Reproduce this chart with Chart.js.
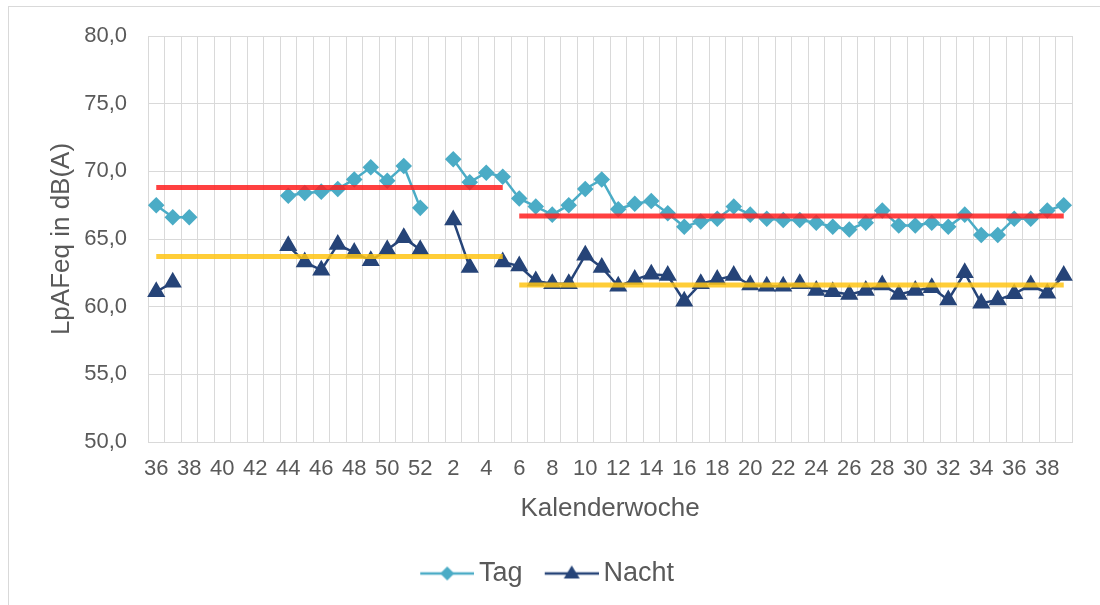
<!DOCTYPE html>
<html>
<head>
<meta charset="utf-8">
<script src="https://cdn.jsdelivr.net/npm/chart.js@4.4.1/dist/chart.umd.min.js"></script>
<style>
  body { margin: 0; background: #fff; }
  #wrap { position: relative; width: 1100px; height: 605px; overflow: hidden; }
  #frame { position: absolute; left: 8px; top: 6px; width: 1100px; height: 640px; border: 1px solid #d9d9d9; }
  #myChart { position: absolute; left: 0; top: 0; }
</style>
</head>
<body>
<div id="wrap"><div id="frame"></div><canvas id="myChart" width="1100" height="605"></canvas></div>
<script>
'use strict';
// Kalenderwochen 36..52 und 1..39
let weeks = ['36','37','38','39','40','41','42','43','44','45','46','47','48','49','50','51','52',
  '1','2','3','4','5','6','7','8','9','10','11','12','13','14','15','16','17','18','19','20',
  '21','22','23','24','25','26','27','28','29','30','31','32','33','34','35','36','37','38','39'];

let tagValues = [67.5, 66.6, 66.6, null, null, null, null, null, 68.2, 68.4, 68.5, 68.7, 69.4, 70.3, 69.3, 70.4, 67.3,
  null, 70.9, 69.2, 69.9, 69.6, 68.0, 67.4, 66.8, 67.5, 68.7, 69.4, 67.2, 67.6, 67.8, 66.9, 65.9, 66.3, 66.5, 67.4, 66.8,
  66.5, 66.4, 66.4, 66.2, 65.9, 65.7, 66.2, 67.1, 66.0, 66.0, 66.2, 65.9, 66.8, 65.3, 65.3, 66.5, 66.5, 67.1, 67.5];

let nachtValues = [61.1, 61.8, null, null, null, null, null, null, 64.5, 63.3, 62.7, 64.6, 64.0, 63.4, 64.2, 65.1, 64.2,
  null, 66.4, 62.9, null, 63.3, 63.0, 61.9, 61.7, 61.7, 63.8, 62.9, 61.5, 62.0, 62.4, 62.3, 60.4, 61.7, 62.0, 62.3, 61.6,
  61.5, 61.5, 61.7, 61.2, 61.1, 60.9, 61.2, 61.6, 60.9, 61.2, 61.4, 60.5, 62.5, 60.25, 60.5, 60.95, 61.6, 61.0, 62.3];

// Mittelwerte je Zeitraum (Index von / bis)
let periodFrom = [0, 22];
let periodTo = [21, 55];
let tagMean = [68.8, 66.7];
let nachtMean = [63.7, 61.6];

let yTicks = [50, 55, 60, 65, 70, 75, 80];

let textColor = '#595959';
let gridColor = '#d9d9d9';
let tagColor = '#4bacc6';
let nachtColor = '#264478';
let fontFamily = 'Liberation Sans, Arial, sans-serif';

function meanLine(p, value) {
  return weeks.map(function (w, i) {
    return (i >= periodFrom[p] && i <= periodTo[p]) ? value : null;
  });
}

function legendIcon(color, shape) {
  let c = document.createElement('canvas');
  c.width = 75;
  c.height = 20;
  let g = c.getContext('2d');
  g.strokeStyle = color;
  g.fillStyle = color;
  g.lineWidth = 2.5;
  g.beginPath();
  g.moveTo(21, 10);
  g.lineTo(75, 10);
  g.stroke();
  g.beginPath();
  if (shape === 'diamond') {
    g.moveTo(48, 3); g.lineTo(55, 10); g.lineTo(48, 17); g.lineTo(41, 10);
  } else {
    g.moveTo(48, 2); g.lineTo(56, 15); g.lineTo(40, 15);
  }
  g.closePath();
  g.fill();
  return c;
}

let tagIcon = legendIcon(tagColor, 'diamond');
let nachtIcon = legendIcon(nachtColor, 'triangle');

let datasets = [{
  label: 'Tag',
  data: tagValues,
  borderColor: tagColor,
  backgroundColor: tagColor,
  borderWidth: 2.5,
  pointStyle: 'rectRot',
  pointRadius: 6.5,
  pointHoverRadius: 6.5,
  order: 1
}, {
  label: 'Nacht',
  data: nachtValues,
  borderColor: nachtColor,
  backgroundColor: nachtColor,
  borderWidth: 2.5,
  pointStyle: 'triangle',
  pointRadius: 8,
  pointHoverRadius: 8,
  order: 1
}];

for (let p = 0; p < periodFrom.length; p++) {
  datasets.push({
    label: 'Mittel Tag',
    data: meanLine(p, tagMean[p]),
    borderColor: 'rgba(255, 30, 30, 0.85)',
    borderWidth: 5,
    pointRadius: 0,
    order: 0
  });
  datasets.push({
    label: 'Mittel Nacht',
    data: meanLine(p, nachtMean[p]),
    borderColor: 'rgba(255, 196, 20, 0.85)',
    borderWidth: 5,
    pointRadius: 0,
    order: 0
  });
}

let ctx = document.getElementById('myChart').getContext('2d');
let chart = new Chart(ctx, {
  type: 'line',
  data: { labels: weeks, datasets: datasets },
  options: {
    responsive: false,
    animation: false,
    layout: { padding: { left: 10, top: 36, right: 28, bottom: 8 } },
    plugins: {
      tooltip: { enabled: false },
      legend: {
        position: 'bottom',
        labels: {
          usePointStyle: true,
          pointStyleWidth: 57.5,
          color: textColor,
          padding: 10,
          font: { family: fontFamily, size: 27 },
          generateLabels: function () {
            return [
              { text: 'Tag', pointStyle: tagIcon, fillStyle: tagColor, strokeStyle: tagColor, lineWidth: 0, fontColor: textColor, hidden: false, datasetIndex: 0 },
              { text: 'Nacht', pointStyle: nachtIcon, fillStyle: nachtColor, strokeStyle: nachtColor, lineWidth: 0, fontColor: textColor, hidden: false, datasetIndex: 1 }
            ];
          }
        }
      }
    },
    scales: {
      x: {
        offset: true,
        grid: { offset: true, color: gridColor, drawTicks: false },
        border: { color: gridColor },
        ticks: {
          autoSkip: false,
          maxRotation: 0,
          padding: 14,
          color: textColor,
          font: { family: fontFamily, size: 22 },
          callback: function (v, i) { return i % 2 === 0 ? weeks[i] : ''; }
        },
        title: {
          display: true,
          text: 'Kalenderwoche',
          color: textColor,
          font: { family: fontFamily, size: 26 },
          padding: { top: 0, bottom: 26 }
        },
        afterFit: function (s) { s.height = 108; }
      },
      y: {
        min: yTicks[0],
        max: yTicks[yTicks.length - 1],
        grid: { color: gridColor, drawTicks: false },
        border: { color: gridColor },
        afterBuildTicks: function (s) { s.ticks = yTicks.map(function (v) { return { value: v }; }); },
        ticks: {
          padding: 21,
          color: textColor,
          font: { family: fontFamily, size: 22 },
          callback: function (v) { return v.toFixed(1).replace('.', ','); }
        },
        title: {
          display: true,
          text: 'LpAFeq in dB(A)',
          color: textColor,
          font: { family: fontFamily, size: 26 },
          padding: { top: 36, bottom: 0 }
        },
        afterFit: function (s) { s.width = 138; }
      }
    }
  }
});
</script>
</body>
</html>
